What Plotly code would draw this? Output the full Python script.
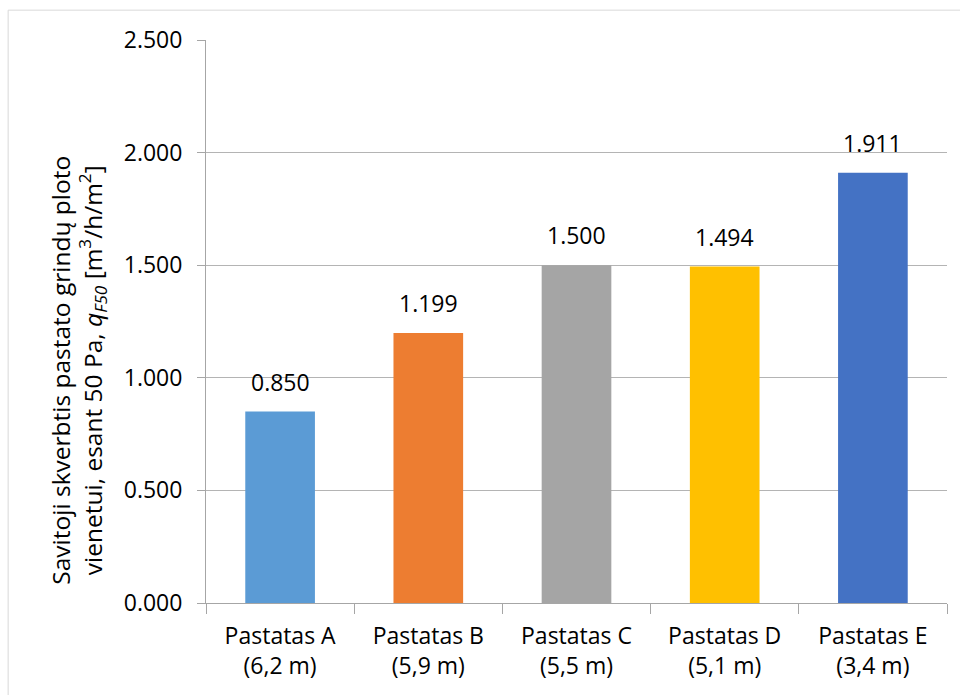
import plotly.graph_objects as go

# Buildings (with height) and specific air permeability per floor area
categories = ["Pastatas A<br>(6,2 m)", "Pastatas B<br>(5,9 m)", "Pastatas C<br>(5,5 m)",
              "Pastatas D<br>(5,1 m)", "Pastatas E<br>(3,4 m)"]
values = [0.850, 1.199, 1.500, 1.494, 1.911]
bar_colors = ["#5B9BD5", "#ED7D31", "#A5A5A5", "#FFC000", "#4472C4"]
y_ticks = [0.0, 0.5, 1.0, 1.5, 2.0, 2.5]

font_family = "Open Sans, DejaVu Sans, sans-serif"

fig = go.Figure(go.Bar(
    x=categories, y=values, marker=dict(color=bar_colors, line=dict(width=0)),
    width=0.47, showlegend=False,
))

# value labels above the bars
for c, v in zip(categories, values):
    fig.add_annotation(x=c, y=v, text=f"{v:.3f}", showarrow=False,
                       yanchor="bottom", yshift=12,
                       font=dict(family=font_family, size=23, color="#000000"))

# rotated y-axis title (two lines)
fig.add_annotation(
    xref="paper", yref="paper", x=-0.173, y=0.414, xanchor="center", yanchor="middle",
    textangle=-90, showarrow=False,
    text="Savitoji skverbtis pastato grindų ploto<br>vienetui, esant 50 Pa, "
         "<i>q<sub>F50</sub></i> [m<sup>3</sup>/h/m<sup>2</sup>]",
    font=dict(family=font_family, size=24.5, color="#000000"),
)

fig.update_layout(
    width=960, height=695,
    margin=dict(l=206, r=13, t=40, b=92),
    paper_bgcolor="white", plot_bgcolor="white",
    bargap=0.53,
    shapes=[dict(type="rect", xref="paper", yref="paper", x0=-0.267, x1=1.03, y0=-0.175,
                 y1=1.053, line=dict(color="#D9D9D9", width=1), layer="below")],
)
fig.update_yaxes(
    range=[0, 2.5], tickvals=y_ticks, tickformat=".3f",
    showgrid=True, gridcolor="#B4B4B4", gridwidth=1,
    showline=True, linecolor="#A6A6A6", linewidth=1,
    ticks="outside", ticklen=8, tickcolor="#A6A6A6", ticklabelstandoff=10,
    tickfont=dict(family=font_family, size=23, color="#000000"),
    zeroline=False,
)
fig.update_xaxes(
    showline=True, linecolor="#A6A6A6", linewidth=1,
    ticks="outside", tickson="boundaries", ticklen=10, tickcolor="#A6A6A6",
    ticklabelstandoff=12,
    tickfont=dict(family=font_family, size=23, color="#000000"),
    showgrid=False,
)

fig.write_html("out.html")
